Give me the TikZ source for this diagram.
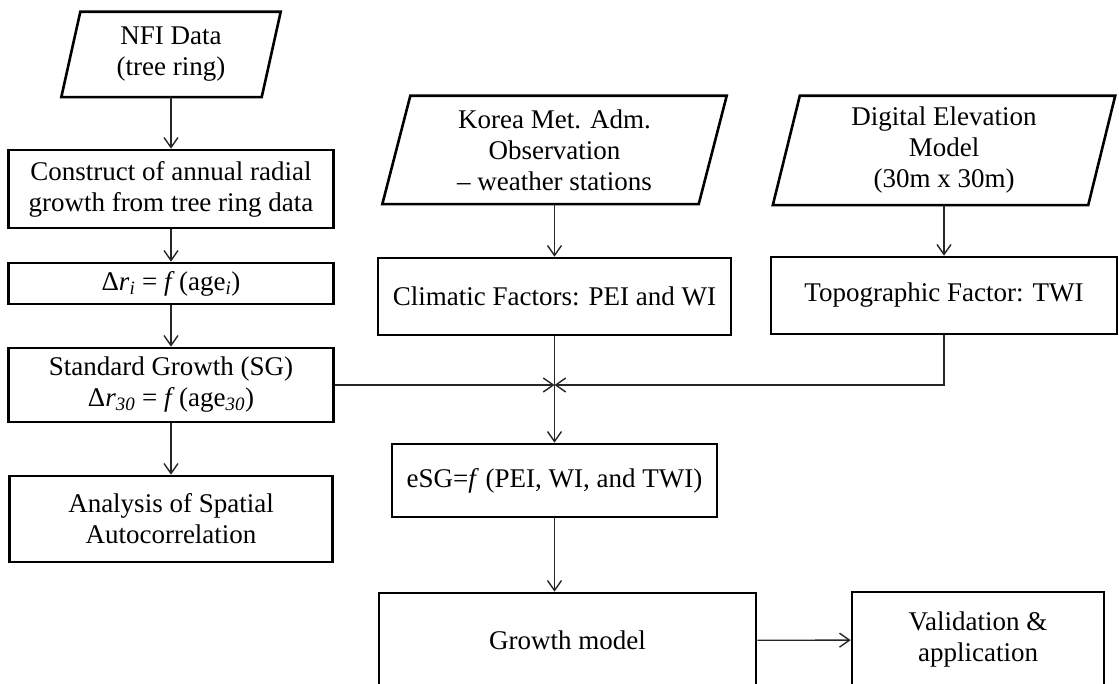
\documentclass[tikz,border=0pt]{standalone}
\usepackage{fontspec}
\setmainfont{Liberation Serif}
\usetikzlibrary{arrows.meta}

\begin{document}
\begin{tikzpicture}[x=1pt, y=-1pt,
  font=\fontsize{27}{31}\selectfont,
  procbox/.style={draw, line width=2.6pt, inner sep=0pt, align=center},
  datain/.style={inner sep=0pt, align=center},
  flow/.style={line width=1.4pt, black!85, -{Straight Barb[length=10pt, width=14pt, line width=1.4pt]}}]
\useasboundingbox (0,0) rectangle (1119,684);

\node[datain, minimum width=200, minimum height=85] (nfi) at (171,54.5) {NFI Data\\(tree ring)};
\node[datain, minimum width=316, minimum height=108] (kma) at (554.5,150) {Korea Met. Adm.\\Observation\\-- weather stations};
\node[datain, minimum width=315, minimum height=109] (dem) at (944,150.5) {Digital Elevation\\Model\\(30m x 30m)};
\foreach \n/\s in {nfi/9.5, kma/14, dem/13.5}
  \draw[line width=2.6pt] ([xshift=\s pt]\n.north west) -- ([xshift=\s pt]\n.north east)
    -- ([xshift=-\s pt]\n.south east) -- ([xshift=-\s pt]\n.south west) -- cycle;

\node[procbox, minimum width=325, minimum height=78] (construct) at (171,189) {Construct of annual radial\\growth from tree ring data};
\node[procbox, minimum width=325, minimum height=41] (dri) at (171,283.5) {Δ\textit{r}\textsubscript{\textit{i}} = \textit{f}\,(age\textsubscript{\textit{i}})};
\node[procbox, minimum width=325, minimum height=74] (sg) at (171,385) {Standard Growth (SG)\\Δ\textit{r}\textsubscript{\textit{30}} = \textit{f}\,(age\textsubscript{\textit{30}})};
\node[procbox, minimum width=323, minimum height=86] (spatial) at (171,519) {Analysis of Spatial\\Autocorrelation};
\node[procbox, minimum width=353, minimum height=77] (climatic) at (554.5,296.5) {Climatic Factors: PEI and WI};
\node[procbox, minimum width=346, minimum height=77] (topo) at (944,295.5) {Topographic Factor: TWI};
\node[procbox, minimum width=325, minimum height=73] (esg) at (554.5,480.5) {eSG=\textit{f} (PEI, WI, and TWI)};
\node[procbox, minimum width=377, minimum height=95] (growth) at (567.5,640.5) {Growth model};
\node[procbox, minimum width=252, minimum height=96] (valid) at (978,640) {Validation \&\\application};
\coordinate (jn) at (554.5,385);

\draw[flow] (nfi.south) -- (construct.north);
\draw[flow] (construct) -- (dri);
\draw[flow] (dri) -- (sg);
\draw[flow] (sg) -- (spatial);
\draw[flow] (kma.south) -- (climatic.north);
\draw[flow] (dem.south) -- (topo.north);
\draw[flow] (sg) -- (jn);
\draw[flow] (topo.south) |- (jn);
\draw[flow] (climatic) -- (esg);
\draw[flow] (esg) -- (esg |- growth.north);
\draw[flow] (growth) -- (valid);
\end{tikzpicture}
\end{document}
